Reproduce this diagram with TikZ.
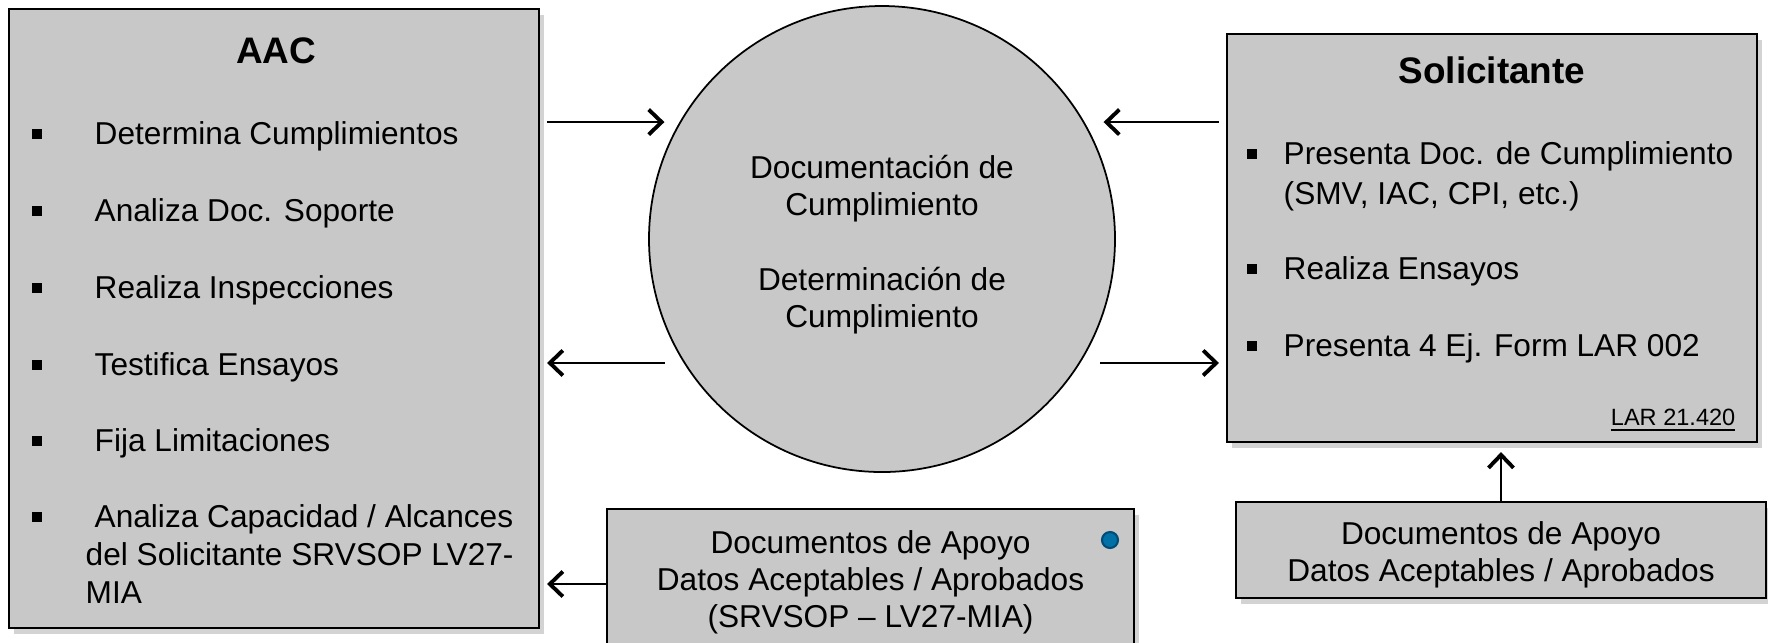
\documentclass[tikz,border=0pt]{standalone}
\usepackage{fontspec}
\setmainfont{Liberation Sans}
\usetikzlibrary{arrows.meta,shadows}

\definecolor{boxgray}{RGB}{200,200,200}
\definecolor{dotblue}{RGB}{0,112,166}
\definecolor{dotedge}{RGB}{0,76,118}

\tikzset{
  panel/.style={draw, line width=0.6pt, fill=boxgray, inner sep=0pt,
    drop shadow={shadow xshift=0.5mm, shadow yshift=-0.6mm, opacity=0.35}},
  disc/.style={circle, draw, line width=0.5pt, fill=boxgray, inner sep=0pt,
    minimum size=46.6mm},
  boxtext/.style={inner sep=0pt, align=center, font=\fontsize{9}{10.5}\selectfont},
  boxtitle/.style={inner sep=0pt, font=\fontsize{10.5}{12}\selectfont\bfseries},
  item/.style={anchor=base west, inner sep=0pt, font=\fontsize{9}{10.5}\selectfont},
  bul/.style={rectangle, fill=black, inner sep=0pt, minimum size=0.95mm},
  note/.style={anchor=base east, inner sep=0pt, font=\fontsize{6.7}{8}\selectfont},
  dotc/.style={circle, fill=dotblue, draw=dotedge, line width=0.6pt,
    minimum size=1.6mm, inner sep=0pt},
  arr/.style={line width=0.6pt,
    -{Straight Barb[length=1.3mm,width=2.5mm,line width=1.1pt]}}
}

\begin{document}
\begin{tikzpicture}[x=0.1mm,y=-0.1mm]
        \useasboundingbox (0,0) rectangle (1768,642);

        % the two main boxes
        \node[panel, minimum width=53mm, minimum height=61.9mm] (aac) at (274,318.5) {};
        \node[panel, minimum width=53mm, minimum height=40.8mm] (sol) at (1492,238) {};

        % the supporting documents
        \node[panel, minimum width=52.7mm, minimum height=13.6mm] (apoyo1) at (870.5,577) {};
        \node[boxtext] (apoyo1txt) at ([yshift=-0.5mm]apoyo1.center)
              {Documentos de Apoyo\\Datos Aceptables / Aprobados\\(SRVSOP – LV27-MIA)};
        \node[panel, minimum width=53mm, minimum height=9.6mm] (apoyo2) at (1501,550) {};
        \node[boxtext] (apoyo2txt) at ([yshift=-0.45mm]apoyo2.center)
              {Documentos de Apoyo\\Datos Aceptables / Aprobados};
        \node[dotc] (dot) at (1110,540) {};

        % the circle in the middle
        \node[disc] (ctr) at (882,239) {};
        \node[boxtext] (ctrtxt) at ([yshift=-0.55mm]ctr.center)
              {Documentación de\\Cumplimiento\\[3.8mm]Determinación de\\Cumplimiento};

        % titles
        \node[boxtitle] (aactitle) at (276,51) {AAC};
        \node[boxtitle] (soltitle) at (1492,70) {Solicitante};

        % list of the AAC
        \foreach \y/\txt [count=\i] in {
            144/Determina Cumplimientos,
            221/Analiza Doc. Soporte,
            298/Realiza Inspecciones,
            375/Testifica Ensayos,
            451/Fija Limitaciones,
            527/{Analiza Capacidad / Alcances}} {
                \node[bul] (aacb\i) at (37,\y-10) {};
                \node[item] (aact\i) at (94,\y) {\txt};
        }
        \node[item] (aact7) at (85,565) {del Solicitante SRVSOP LV27-};
        \node[item] (aact8) at (85,603) {MIA};

        % list of the Solicitante
        \foreach \y/\txt [count=\i] in {
            164/Presenta Doc. de Cumplimiento,
            279/Realiza Ensayos,
            356/Presenta 4 Ej. Form LAR 002} {
                \node[bul] (solb\i) at (1252,\y-10) {};
                \node[item] (solt\i) at (1283,\y) {\txt};
        }
        \node[item] (solx) at (1283,204) {(SMV, IAC, CPI, etc.)};
        \node[note] (lar) at (1736,425) {\underline{LAR 21.420}};

        % arrows
        \draw[arr, shorten <=0.7mm, shorten >=1.5mm] (aac.east |- ctr.150) -- (ctr.150);
        \draw[arr, shorten <=0.7mm, shorten >=1.9mm] (sol.west |- ctr.30) -- (ctr.30);
        \draw[arr, shorten <=1.9mm, shorten >=0.7mm] (ctr.212) -- (aac.east |- ctr.212);
        \draw[arr, shorten <=2mm, shorten >=0.7mm] (ctr.328) -- (sol.west |- ctr.328);
        \coordinate (apoyoout) at ([yshift=-0.7mm]apoyo1.west);
        \draw[arr, shorten >=0.7mm] (apoyoout) -- (aac.east |- apoyoout);
        \draw[arr, shorten >=0.9mm] (apoyo2.north) -- (apoyo2.north |- sol.south);

\end{tikzpicture}
\end{document}
